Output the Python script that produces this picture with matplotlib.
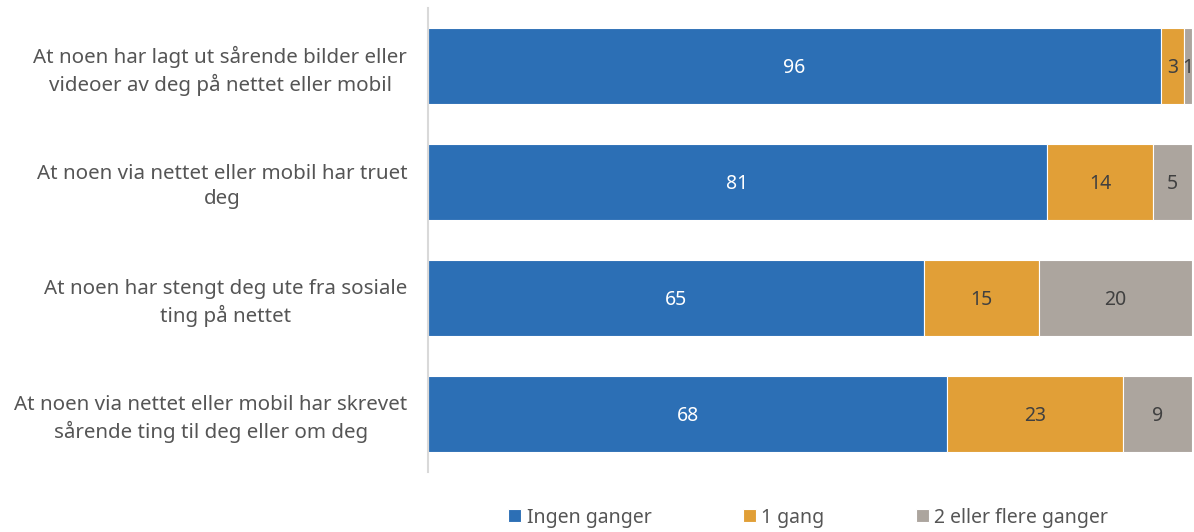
import matplotlib.pyplot as plt
import numpy as np

plt.rcParams['font.family'] = ['Noto Sans', 'DejaVu Sans']

categories = [
    "At noen har lagt ut sårende bilder eller\nvideoer av deg på nettet eller mobil",
    "At noen via nettet eller mobil har truet\ndeg",
    "At noen har stengt deg ute fra sosiale\nting på nettet",
    "At noen via nettet eller mobil har skrevet\nsårende ting til deg eller om deg",
]
ingen = [96, 81, 65, 68]
en_gang = [3, 14, 15, 23]
flere = [1, 5, 20, 9]
series_names = ["Ingen ganger", "1 gang", "2 eller flere ganger"]
colors = ["#2c6fb5", "#e19f37", "#aca59e"]
text_colors = ["white", "#404040", "#404040"]

fig = plt.figure(figsize=(11.94, 5.32), dpi=100)
ax = fig.add_axes([0.3585, 0.113, 0.6395, 0.872])

y = np.arange(len(categories))
left = np.zeros(len(categories))
for vals, name, col, tcol in zip([ingen, en_gang, flere], series_names, colors, text_colors):
    bars = ax.barh(y, vals, left=left, height=0.655, color=col, label=name,
                   edgecolor="white", linewidth=0.8)
    for b, v in zip(bars, vals):
        ax.text(b.get_x() + b.get_width() / 2, b.get_y() + b.get_height() / 2, str(v),
                ha="center", va="center_baseline", color=tcol, fontsize=14)
    left += np.array(vals)

ax.set_xlim(0, 100)
ax.set_ylim(len(categories) - 0.5, -0.5)
ax.set_yticks(y)
ax.set_yticklabels(categories, fontsize=14.8, color="#555555", linespacing=1.3,
                   multialignment="center")
ax.tick_params(axis="y", length=0, pad=15)
ax.set_xticks([])
for s in ["top", "right", "bottom"]:
    ax.spines[s].set_visible(False)
ax.spines["left"].set_color("#d9d9d9")
ax.spines["left"].set_linewidth(1.5)

fig.legend(loc="lower left", bbox_to_anchor=(0.411, -0.025), ncol=3, frameon=False,
           fontsize=14, handlelength=0.65, handleheight=0.65, handletextpad=0.3,
           columnspacing=4.7, labelcolor="#555555")

fig.savefig("out.png", dpi=100)
